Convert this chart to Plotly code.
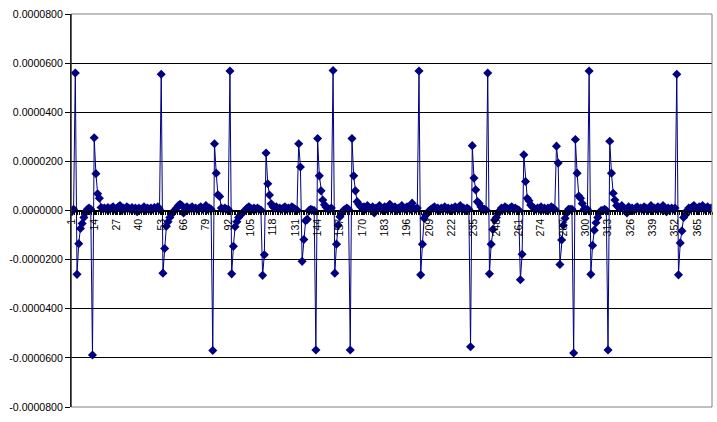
import plotly.graph_objects as go

# Series values, in units of 1e-5, split by day ranges
values_001_050 = [-0.05, 0.05, 5.6, -2.6, -1.35, -0.73, -0.53, -0.28, -0.09, 0.05,
                  0.1, 0.05, -5.88, 2.96, 1.5, 0.68, 0.5, 0.12, 0.08, 0.1,
                  0.05, 0.12, 0.05, 0.1, 0.15, 0.05, 0.08, 0.15, 0.2, 0.0,
                  0.1, 0.05, 0.15, 0.1, 0.05, 0.12, 0.05, 0.1, -0.05, 0.1,
                  0.05, 0.08, 0.15, 0.0, 0.1, 0.05, 0.1, 0.05, 0.12, 0.05]
values_051_100 = [0.15, 0.05, 5.55, -2.55, -1.55, -0.64, -0.46, -0.28, -0.15, -0.05,
                  0.02, 0.1, 0.2, 0.25, 0.2, -0.1, 0.1, 0.15, 0.05, 0.1,
                  0.15, 0.05, 0.1, 0.05, 0.1, 0.15, 0.05, 0.1, 0.2, 0.05,
                  0.1, 0.05, -5.7, 2.72, 1.52, 0.64, 0.57, 0.1, 0.05, 0.1,
                  0.05, 0.05, 5.68, -2.58, -1.46, -0.66, -0.46, -0.28, -0.18, -0.12]
values_101_150 = [-0.05, 0.02, 0.1, 0.15, 0.1, 0.05, 0.1, 0.05, 0.1, 0.05,
                  0.02, -2.64, -1.8, 2.34, 1.09, 0.63, 0.27, 0.15, 0.1, 0.15,
                  0.05, 0.1, 0.05, 0.1, 0.15, 0.05, 0.1, 0.05, 0.15, 0.1,
                  0.05, 0.02, 2.72, 1.77, -2.07, -1.18, -0.42, -0.36, 0.0, 0.05,
                  0.02, 0.0, -5.68, 2.93, 1.41, 0.8, 0.43, 0.23, 0.13, 0.05]
values_151_200 = [0.05, 0.1, 5.7, -2.55, -1.37, -0.6, -0.25, -0.12, 0.0, 0.05,
                  0.1, 0.05, -5.68, 2.93, 1.41, 0.8, 0.36, 0.25, 0.15, 0.1,
                  0.15, 0.05, 0.2, 0.1, 0.05, 0.15, -0.1, 0.1, 0.05, 0.2,
                  0.1, 0.0, 0.15, 0.05, 0.1, 0.25, 0.05, 0.1, 0.15, 0.0,
                  0.1, 0.05, 0.2, 0.1, 0.05, 0.15, 0.1, 0.05, 0.3, 0.1]
values_201_250 = [0.05, 0.1, 5.68, -2.62, -1.37, -0.32, -0.18, -0.1, 0.0, 0.05,
                  0.1, 0.15, 0.05, 0.1, 0.0, 0.1, 0.05, 0.15, 0.05, 0.1,
                  0.0, 0.1, 0.05, 0.15, 0.1, 0.05, 0.2, 0.05, 0.1, 0.0,
                  0.1, 0.05, -5.55, 2.64, 1.32, 0.84, 0.36, 0.29, 0.15, 0.05,
                  0.05, 0.02, 5.6, -2.58, -1.37, -0.77, -0.39, -0.28, -0.12, 0.0]
values_251_300 = [0.1, 0.05, 0.15, 0.1, 0.05, 0.1, 0.15, 0.05, 0.1, 0.05,
                  0.02, -2.82, -1.78, 2.27, 1.18, 0.5, 0.4, 0.22, 0.15, 0.1,
                  0.05, 0.1, 0.05, 0.15, 0.05, 0.1, 0.0, 0.1, 0.05, 0.15,
                  0.1, 0.05, 2.62, 1.93, -2.2, -1.2, -0.6, -0.32, -0.1, 0.05,
                  0.05, 0.05, -5.8, 2.89, 1.52, 0.59, 0.5, 0.29, 0.05, 0.05]
values_301_350 = [0.05, 5.68, -2.6, -1.42, -0.8, -0.5, -0.28, -0.09, 0.0, 0.0,
                  0.05, 0.0, -5.68, 2.82, 1.52, 0.7, 0.43, 0.2, 0.15, 0.1,
                  0.2, 0.1, 0.05, -0.1, 0.15, 0.05, 0.1, 0.0, 0.1, 0.15,
                  0.05, 0.1, 0.05, 0.15, 0.1, 0.0, 0.1, 0.2, 0.05, 0.1,
                  0.05, 0.15, 0.1, 0.05, 0.2, 0.1, -0.05, 0.1, 0.05, 0.1]
values_351_373 = [0.05, 0.1, 5.55, -2.62, -1.32, -0.83, -0.28, -0.18, 0.0, 0.1,
                  0.05, 0.15, 0.2, 0.1, 0.05, 0.15, 0.1, 0.2, 0.05, 0.1,
                  0.15, 0.05, 0.1]
VALUE_UNIT = 1e-5

tick_days = [1, 14, 27, 40, 53, 66, 79, 92, 105, 118, 131, 144, 157, 170, 183,
             196, 209, 222, 235, 248, 261, 274, 287, 300, 313, 326, 339, 352, 365]
tick_day_labels = [str(d) for d in tick_days]
y_tick_vals = [-8e-5, -6e-5, -4e-5, -2e-5, 0, 2e-5, 4e-5, 6e-5, 8e-5]
y_tick_labels = ["-0.0000800", "-0.0000600", "-0.0000400", "-0.0000200", "0.0000000",
                 "0.0000200", "0.0000400", "0.0000600", "0.0000800"]

values = (values_001_050 + values_051_100 + values_101_150 + values_151_200 +
          values_201_250 + values_251_300 + values_301_350 + values_351_373)
days = list(range(1, len(values) + 1))
y = [v * VALUE_UNIT for v in values]

NAVY = "#000080"
fig = go.Figure(go.Scatter(
    x=days, y=y, mode="lines+markers",
    line=dict(color=NAVY, width=1),
    marker=dict(symbol="diamond", size=7, color=NAVY, line=dict(width=0)),
    hoverinfo="x+y",
))

fig.update_layout(
    width=717, height=422,
    margin=dict(l=71, r=5, t=14, b=15, pad=0),
    paper_bgcolor="white", plot_bgcolor="white",
    showlegend=False,
    font=dict(family="Liberation Sans, Arial, sans-serif", size=10.6, color="black"),
    xaxis=dict(
        type="linear", range=[0.5, len(values) + 0.5],
        anchor="free", position=0.5,
        showline=True, linecolor="black", linewidth=1,
        tickmode="array", tickvals=tick_days, ticktext=tick_day_labels,
        tickangle=-90, ticks="outside", ticklen=3, tickcolor="black", tickwidth=1,
        showgrid=False, zeroline=False,
        minor=dict(tick0=0.5, dtick=1, ticks="outside", ticklen=3,
                   tickcolor="black", tickwidth=1, showgrid=False),
    ),
    yaxis=dict(
        range=[-8e-5, 8e-5],
        tickmode="array", tickvals=y_tick_vals, ticktext=y_tick_labels,
        ticks="outside", ticklen=5, tickcolor="black", tickwidth=1,
        showline=True, linecolor="black", linewidth=1,
        showgrid=True, gridcolor="black", gridwidth=1,
        zeroline=False,
    ),
    shapes=[
        dict(type="rect", xref="paper", yref="paper", x0=0, x1=1, y0=0, y1=1,
             line=dict(color="#808080", width=1), layer="above"),
        dict(type="line", xref="paper", yref="paper", x0=0, x1=0, y0=0, y1=1,
             line=dict(color="black", width=1), layer="above"),
    ],
)

fig.write_html("out.html",
               config={"displayModeBar": False},
               post_script="document.body.style.margin='0';document.body.style.padding='0';")
